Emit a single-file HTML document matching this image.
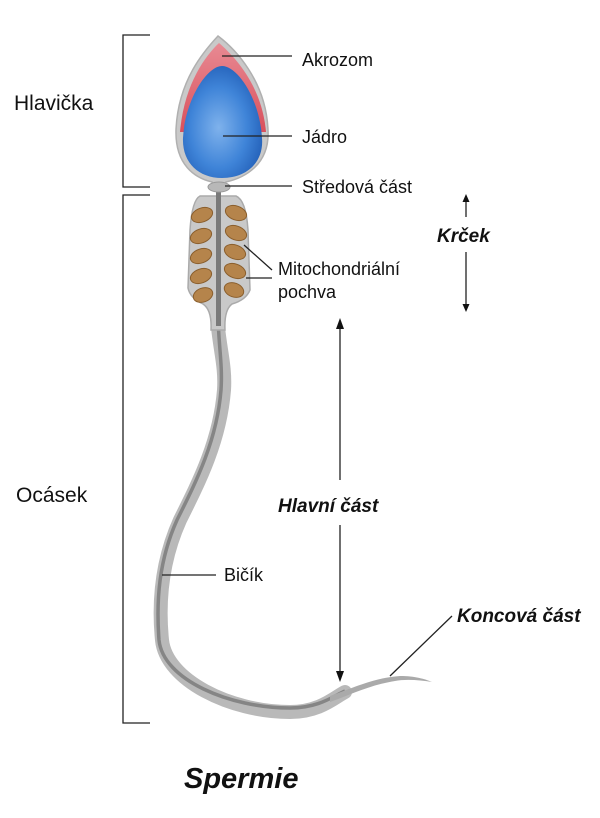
<!DOCTYPE html>
<html><head><meta charset="utf-8"><style>
body{margin:0;background:#fff}
svg{display:block}
text{font-family:"Liberation Sans",sans-serif;fill:#111}
</style></head><body>
<svg width="600" height="818" viewBox="0 0 600 818" xmlns="http://www.w3.org/2000/svg">
<defs>
<radialGradient id="nuc" cx="0.45" cy="0.55" r="0.6"><stop offset="0" stop-color="#7fb2ec"/><stop offset="0.6" stop-color="#3f84d8"/><stop offset="1" stop-color="#2360b8"/></radialGradient>
<linearGradient id="acr" x1="0" y1="0" x2="0" y2="1"><stop offset="0" stop-color="#e88a93"/><stop offset="1" stop-color="#d9505c"/></linearGradient>
</defs>
<path d="M150 35 H123 V187 H150" fill="none" stroke="#222" stroke-width="1.3"/>
<path d="M150 195 H123 V723 H150" fill="none" stroke="#222" stroke-width="1.3"/>
<text x="14" y="110" font-size="21">Hlavička</text>
<text x="16" y="502" font-size="21">Ocásek</text>
<!-- tail -->
<path d="M217 300 C216 340 226 360 224 390 C220 440 200 480 180 520 C162 560 158 600 162 640 C166 680 230 712 290 712 C320 712 335 697 345 692" fill="none" stroke="#b9b9b9" stroke-width="14" stroke-linecap="round"/>
<path d="M218 300 C217 340 223 360 221 390 C217 440 197 480 177 520 C159 560 156 600 159 640 C163 680 230 708 290 708 C320 708 335 695 345 691" fill="none" stroke="#858585" stroke-width="3.5"/>
<path d="M330 696 C360 685 375 678 400 676 C415 676 425 679 432 682 C420 680 405 679 395 681 C370 685 350 695 330 702Z" fill="#aaa"/>
<!-- midpiece -->
<path d="M200 196 H236 Q246 200 248 230 L250 290 Q246 300 232 304 Q224 310 225 330 L211 330 Q212 310 203 304 Q190 298 188 288 L190 230 Q192 200 200 196Z" fill="#c9c9c9" stroke="#aaa" stroke-width="1.5"/>
<g fill="#b5844b" stroke="#8a5e2c" stroke-width="1">
<ellipse cx="202" cy="215" rx="11" ry="7" transform="rotate(-20 202 215)"/>
<ellipse cx="201" cy="236" rx="11" ry="7" transform="rotate(-20 201 236)"/>
<ellipse cx="201" cy="256" rx="11" ry="7" transform="rotate(-20 201 256)"/>
<ellipse cx="201" cy="276" rx="11" ry="7" transform="rotate(-20 201 276)"/>
<ellipse cx="203" cy="295" rx="10" ry="7" transform="rotate(-20 203 295)"/>
<ellipse cx="236" cy="213" rx="11" ry="7" transform="rotate(20 236 213)"/>
<ellipse cx="236" cy="233" rx="11" ry="7" transform="rotate(20 236 233)"/>
<ellipse cx="235" cy="252" rx="11" ry="7" transform="rotate(20 235 252)"/>
<ellipse cx="235" cy="271" rx="11" ry="7" transform="rotate(20 235 271)"/>
<ellipse cx="234" cy="290" rx="10" ry="7" transform="rotate(20 234 290)"/>
</g>
<rect x="216" y="186" width="5" height="140" fill="#7a7a7a"/>
<!-- head -->
<path d="M218 36 C205 50 178 80 176 130 C175 165 195 178 212 182 L214 190 L224 190 L226 182 C244 178 270 165 268 130 C266 80 234 48 218 36Z" fill="#c9c9c9" stroke="#b0b0b0" stroke-width="1.5"/>
<path d="M219 43 C205 56 184 85 180 132 L266 132 C262 85 234 56 219 43Z" fill="url(#acr)"/>
<path d="M222 66 C207 66 185 100 183 138 C182 162 198 178 222 178 C247 178 264 162 262 138 C260 100 238 66 222 66Z" fill="url(#nuc)"/>
<ellipse cx="219" cy="187" rx="11" ry="5" fill="#b8b8b8" stroke="#999"/>
<!-- labels -->
<g stroke="#222" stroke-width="1.3">
<line x1="222" y1="56" x2="292" y2="56"/>
<line x1="223" y1="136" x2="292" y2="136"/>
<line x1="225" y1="186" x2="292" y2="186"/>
<line x1="244" y1="245" x2="272" y2="270"/>
<line x1="246" y1="278" x2="272" y2="278"/>
<line x1="162" y1="575" x2="216" y2="575"/>
<line x1="390" y1="676" x2="452" y2="616"/>
<line x1="466" y1="200" x2="466" y2="217"/>
<line x1="466" y1="252" x2="466" y2="306"/>
<line x1="340" y1="326" x2="340" y2="480"/>
<line x1="340" y1="525" x2="340" y2="674"/>
</g>
<g fill="#111">
<path d="M466 194 l-3.5 8 h7z"/><path d="M466 312 l-3.5 -8 h7z"/>
<path d="M340 318 l-4 11 h8z"/><path d="M340 682 l-4 -11 h8z"/>
</g>
<text x="302" y="66" font-size="18">Akrozom</text>
<text x="302" y="143" font-size="18">Jádro</text>
<text x="302" y="193" font-size="18">Středová část</text>
<text x="278" y="275" font-size="18">Mitochondriální</text>
<text x="278" y="298" font-size="18">pochva</text>
<text x="224" y="581" font-size="18">Bičík</text>
<text x="437" y="242" font-size="19" font-weight="bold" font-style="italic">Krček</text>
<text x="278" y="512" font-size="19" font-weight="bold" font-style="italic">Hlavní část</text>
<text x="457" y="622" font-size="19" font-weight="bold" font-style="italic">Koncová část</text>
<text x="184" y="788" font-size="29" font-weight="bold" font-style="italic">Spermie</text>
</svg>
</body></html>
